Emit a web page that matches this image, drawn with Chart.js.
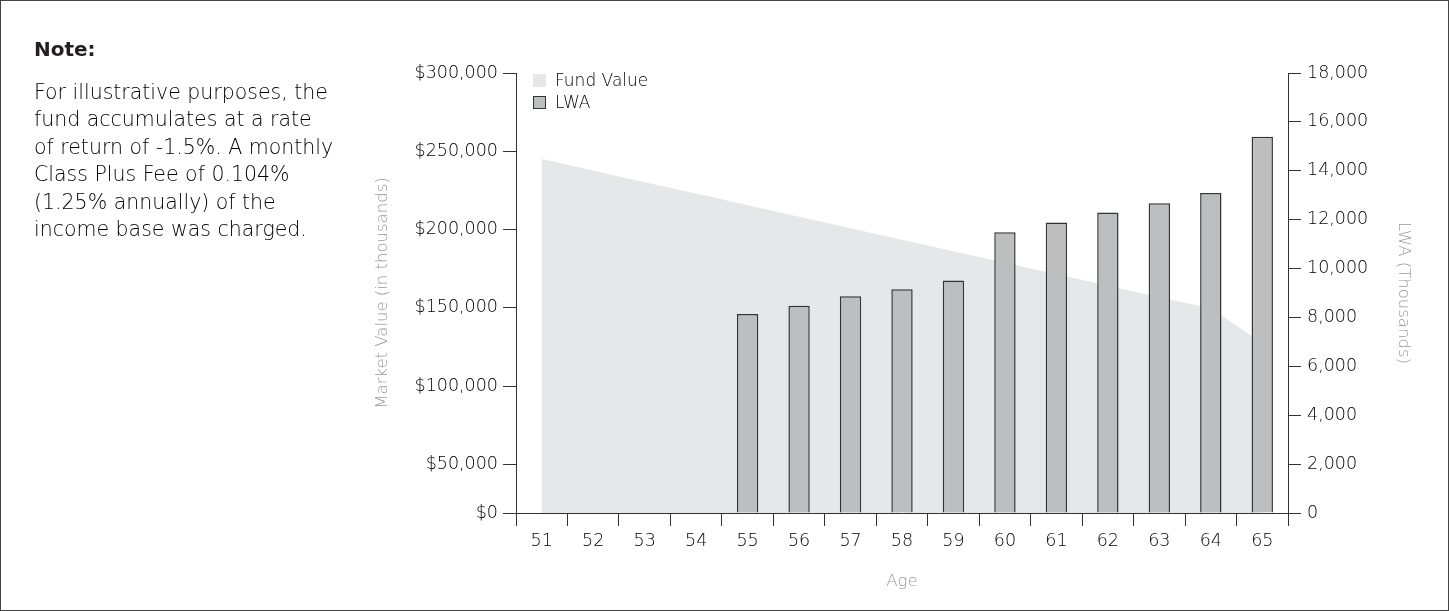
<!DOCTYPE html>
<html>
<head>
<meta charset="utf-8">
<script src="https://cdn.jsdelivr.net/npm/chart.js@4.4.1/dist/chart.umd.min.js"></script>
<style>
    html, body { margin: 0; padding: 0; background: #fff; }
    #frame { position: absolute; left: 0; top: 0; width: 1447px; height: 609px; border: 1px solid #444; }
    #wrap { position: absolute; left: 0; top: 0; width: 1449px; height: 611px; }
    #note { position: absolute; left: 34px; top: 36px; font-family: "DejaVu Sans", sans-serif; color: #000; }
    #note .title { font-size: 20px; font-weight: 700; line-height: 27.4px; color: #231f20; }
    #note .body { font-size: 20.5px; font-weight: 200; line-height: 27.4px; margin-top: 15.6px; }
    #legend { position: absolute; left: 533px; top: 69px; font-family: "DejaVu Sans", sans-serif; font-size: 17px; font-weight: 200; color: #000; }
    #legend .item { height: 22px; line-height: 22px; white-space: nowrap; }
    #legend .box { display: inline-block; width: 13px; height: 13px; box-sizing: border-box; margin-right: 9px; vertical-align: -1px; }
</style>
</head>
<body>
<div id="frame"></div>
<div id="wrap"><canvas id="grafico" width="1449" height="611"></canvas></div>
<div id="note">
    <div class="title">Note:</div>
    <div class="body">For illustrative purposes, the<br>fund accumulates at a rate<br>of return of -1.5%. A monthly<br>Class Plus Fee of 0.104%<br>(1.25% annually) of the<br>income base was charged.</div>
</div>
<div id="legend"></div>
<script>
// dados do grafico
var idades = ["51", "52", "53", "54", "55", "56", "57", "58", "59", "60", "61", "62", "63", "64", "65"];
var valorFundo = [245000, 237700, 230300, 223000, 215600, 208200, 200900, 193500, 186200, 178800, 171500, 164100, 156800, 149700, 127400];
var valorLwa = [0, 0, 0, 0, 8140, 8480, 8870, 9150, 9510, 11490, 11880, 12290, 12670, 13090, 15390];

// ticks do eixo esquerdo (o primeiro fica no fim do eixo e aparece como $0)
var ticksMercado = [19000, 50000, 100000, 150000, 200000, 250000, 300000];
var rotulosMercado = ["$0", "$50,000", "$100,000", "$150,000", "$200,000", "$250,000", "$300,000"];
var ticksLwa = [0, 2000, 4000, 6000, 8000, 10000, 12000, 14000, 16000, 18000];

var corFundo = "#e6e7e8";
var corBarra = "#bdbec0";
var corBorda = "#333333";
var corTexto = "#000000";

var fonteTick = { family: "DejaVu Sans", size: 17.5, weight: 200 };
var fonteTitulo = { family: "DejaVu Sans", size: 16.5, weight: 200 };

// legenda em html
var legenda = [
    { label: "Fund Value", fill: corFundo, border: corFundo },
    { label: "LWA", fill: corBarra, border: corBorda }
];
var htmlLegenda = "";
for (var i = 0; i < legenda.length; i++) {
    htmlLegenda += '<div class="item"><span class="box" style="background:' + legenda[i].fill +
        ';border:1px solid ' + legenda[i].border + '"></span>' + legenda[i].label + '</div>';
}
document.getElementById("legend").innerHTML = htmlLegenda;

var ctx = document.getElementById("grafico");

var chartGraph = new Chart(ctx, {
    data: {
        labels: idades,
        datasets: [{
            type: "bar",
            label: "LWA",
            data: valorLwa,
            yAxisID: "y1",
            backgroundColor: corBarra,
            borderColor: corBorda,
            borderWidth: 1.5,
            categoryPercentage: 1,
            barPercentage: 0.415,
            order: 1
        }, {
            type: "line",
            label: "Fund Value",
            data: valorFundo,
            yAxisID: "y",
            fill: "start",
            backgroundColor: corFundo,
            borderWidth: 0,
            pointRadius: 0,
            tension: 0,
            order: 2
        }]
    },
    options: {
        responsive: false,
        animation: false,
        layout: {
            padding: { left: 373, right: 36, top: 73, bottom: 19 }
        },
        plugins: {
            legend: { display: false },
            tooltip: { enabled: false }
        },
        scales: {
            x: {
                offset: true,
                grid: { drawOnChartArea: false, offset: true, tickLength: 13, color: corBorda },
                border: { color: corBorda },
                ticks: { color: corTexto, font: fonteTick, padding: 5, maxRotation: 0 },
                title: { display: true, text: "Age", color: "#999999", font: fonteTitulo, padding: 0 },
                afterFit: function (scale) { scale.height = 79; }
            },
            y: {
                position: "left",
                min: ticksMercado[0],
                max: 300000,
                grid: { drawOnChartArea: false, tickLength: 13, color: corBorda },
                border: { color: corBorda },
                ticks: {
                    color: corTexto, font: fonteTick, padding: 5,
                    callback: function (value) {
                        var idx = ticksMercado.indexOf(value);
                        return idx >= 0 ? rotulosMercado[idx] : "";
                    }
                },
                afterBuildTicks: function (scale) {
                    scale.ticks = ticksMercado.map(function (v) { return { value: v }; });
                },
                title: { display: true, text: "Market Value (in thousands)", color: "#999999", font: fonteTitulo, padding: 0 },
                afterFit: function (scale) { scale.width = 143; }
            },
            y1: {
                position: "right",
                min: 0,
                max: 18000,
                grid: { drawOnChartArea: false, tickLength: 13, color: corBorda },
                border: { color: corBorda },
                ticks: {
                    color: corTexto, font: fonteTick, padding: 6,
                    callback: function (value) { return value.toLocaleString("en-US"); }
                },
                afterBuildTicks: function (scale) {
                    scale.ticks = ticksLwa.map(function (v) { return { value: v }; });
                },
                title: { display: true, text: "LWA (Thousands)", color: "#999999", font: fonteTitulo, padding: 0 },
                afterFit: function (scale) { scale.width = 125; }
            }
        }
    }
});
</script>
</body>
</html>
